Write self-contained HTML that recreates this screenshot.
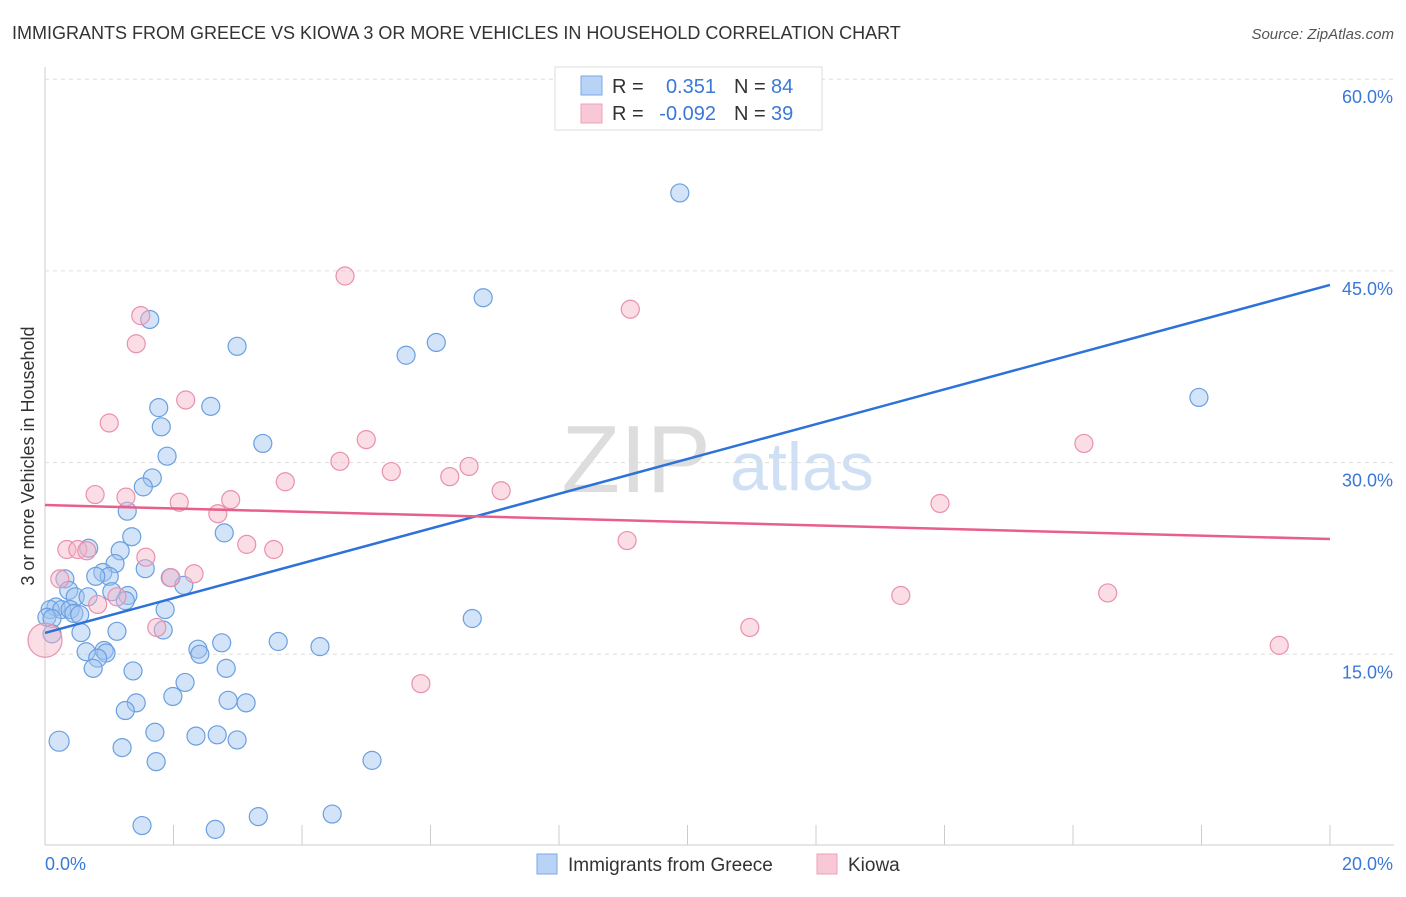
<!DOCTYPE html>
<html><head><meta charset="utf-8"><style>
body{margin:0;background:#fff;font-family:"Liberation Sans",sans-serif}
svg text{font-family:"Liberation Sans",sans-serif}
</style></head><body>
<svg id="c" width="1406" height="892">
<text x="12" y="39" font-size="18" fill="#333">IMMIGRANTS FROM GREECE VS KIOWA 3 OR MORE VEHICLES IN HOUSEHOLD CORRELATION CHART</text>
<text x="1394" y="39" font-size="15" fill="#555" font-style="italic" text-anchor="end">Source: ZipAtlas.com</text>
<text x="636" y="492" font-size="96" fill="#ddd" font-family="Liberation Serif" text-anchor="middle">ZIP</text>
<text x="802" y="490" font-size="68" fill="#cfe0f5" text-anchor="middle">atlas</text>
<g id="grid"></g><g id="pts"></g><g id="lines"></g>
<text transform="translate(34,456) rotate(-90)" font-size="18" fill="#333" text-anchor="middle">3 or more Vehicles in Household</text>
<g>
<rect x="555" y="67" width="267" height="63" fill="#fff" stroke="#ddd"/>
<rect x="581" y="76" width="21" height="19" fill="#b8d3f5" stroke="#7aa8e6"/>
<rect x="581" y="104" width="21" height="19" fill="#f8c8d6" stroke="#eea0b8"/>
<text x="612" y="93" font-size="20" fill="#333">R = </text><text x="716" y="93" font-size="20" fill="#3a78d8" text-anchor="end">0.351</text>
<text x="734" y="93" font-size="20" fill="#333">N = </text><text x="771" y="93" font-size="20" fill="#3a78d8">84</text>
<text x="612" y="120" font-size="20" fill="#333">R = </text><text x="716" y="120" font-size="20" fill="#3a78d8" text-anchor="end">-0.092</text>
<text x="734" y="120" font-size="20" fill="#333">N = </text><text x="771" y="120" font-size="20" fill="#3a78d8">39</text>
</g>
<g>
<rect x="537" y="854" width="20" height="20" fill="#b8d3f5" stroke="#7aa8e6"/>
<text x="568" y="871" font-size="19" fill="#333">Immigrants from Greece</text>
<rect x="817" y="854" width="20" height="20" fill="#f8c8d6" stroke="#eea0b8"/>
<text x="848" y="871" font-size="19" fill="#333">Kiowa</text>
</g>
</svg>
<script>
const yTicks=[15,30,45,60];
const xTickLabels=["0.0%","20.0%"];
const blueX=[9.88,6.82,1.63,2.99,5.62,6.09,1.77,2.58,1.81,3.39,1.90,1.67,1.53,1.28,2.79,1.35,0.68,1.17,1.09,0.90,1.00,0.79,1.56,1.95,2.16,0.31,0.37,0.47,0.67,1.04,1.29,1.25,1.87,0.17,0.08,0.26,0.39,0.45,0.54,0.03,0.11,6.65,1.12,1.84,0.56,0.11,3.63,2.75,2.38,4.28,0.64,0.92,0.95,0.82,2.41,0.75,2.82,1.37,2.18,1.99,2.85,1.42,3.13,1.25,1.71,2.35,2.68,2.99,0.22,1.20,1.73,5.09,3.32,4.47,1.51,2.65,17.96];
const blueY=[51.1,42.9,41.2,39.1,38.4,39.4,34.3,34.4,32.8,31.5,30.5,28.8,28.1,26.2,24.5,24.2,23.3,23.1,22.1,21.4,21.1,21.1,21.7,21.0,20.4,20.9,20.0,19.5,19.5,19.9,19.6,19.2,18.5,18.7,18.5,18.5,18.5,18.2,18.1,17.9,17.8,17.8,16.8,16.9,16.7,16.6,16.0,15.9,15.4,15.6,15.2,15.3,15.1,14.7,15.0,13.9,13.9,13.7,12.8,11.7,11.4,11.2,11.2,10.6,8.9,8.6,8.7,8.3,8.2,7.7,6.6,6.7,2.3,2.5,1.6,1.3,35.1];
const pinkX=[4.67,9.11,1.49,1.42,2.19,1.00,5.00,4.59,6.60,5.39,6.30,3.74,0.78,1.26,2.09,2.89,7.10,2.69,3.14,3.56,0.34,0.51,0.65,1.57,9.06,13.93,16.17,2.32,1.96,0.23,0.82,1.12,1.74,13.32,16.54,10.97,5.85,19.21,0];
const pinkY=[44.6,42.0,41.5,39.3,34.9,33.1,31.8,30.1,29.7,29.3,28.9,28.5,27.5,27.3,26.9,27.1,27.8,26.0,23.6,23.2,23.2,23.2,23.1,22.6,23.9,26.8,31.5,21.3,21.0,20.9,18.9,19.5,17.1,19.6,19.8,17.1,12.7,15.7,16.1];
const blueLine=[16.67,43.9];
const pinkLine=[26.68,24.02];
const NS="http://www.w3.org/2000/svg";
const X=v=>45+v/20*1285, Y=v=>846-v/15*191.7;
function mk(t,a,p){const e=document.createElementNS(NS,t);for(const k in a)e.setAttribute(k,a[k]);p.appendChild(e);return e;}
const g=document.getElementById('grid');
mk('line',{x1:45,y1:67,x2:45,y2:845,stroke:'#ccc'},g);
mk('line',{x1:45,y1:845,x2:1394,y2:845,stroke:'#ccc'},g);
for(let i=0;i<=10;i++){const l=mk('line',{x1:X(i*2),y1:825,x2:X(i*2),y2:845,stroke:'#ccc'},g);

}
yTicks.forEach(t=>{const l=mk('line',{x1:45,y1:Y(t),x2:1394,y2:Y(t),stroke:'#ddd','stroke-dasharray':'4,4'},g);


const tx=mk('text',{x:1393,y:Y(t)+24,'font-size':18,fill:'#3a78d8','text-anchor':'end'},g);tx.textContent=t.toFixed(1)+'%';

});
xTickLabels.forEach((s,i)=>{const tx=mk('text',{x:i?1393:45,y:870,'font-size':18,fill:'#3a78d8','text-anchor':i?'end':'start'},g);tx.textContent=s;

});
const p=document.getElementById('pts');
blueX.forEach((x,i)=>{const c=mk('circle',{cx:X(x),cy:Y(blueY[i]),r:i==68?10:9,fill:'rgba(160,196,240,0.45)',stroke:'#6a9fe0','stroke-width':1.2},p);

});
pinkX.forEach((x,i)=>{const c=mk('circle',{cx:X(x),cy:Y(pinkY[i]),r:i==38?17:9,fill:'rgba(246,180,200,0.45)',stroke:'#e990ad','stroke-width':1.2},p);

});
const L=document.getElementById('lines');
const bl=mk('line',{x1:X(0),y1:Y(blueLine[0]),x2:X(20),y2:Y(blueLine[1]),stroke:'#2d72d9','stroke-width':2.5},L);


const pl=mk('line',{x1:X(0),y1:Y(pinkLine[0]),x2:X(20),y2:Y(pinkLine[1]),stroke:'#e8608a','stroke-width':2.5},L);


</script>
</body></html>
